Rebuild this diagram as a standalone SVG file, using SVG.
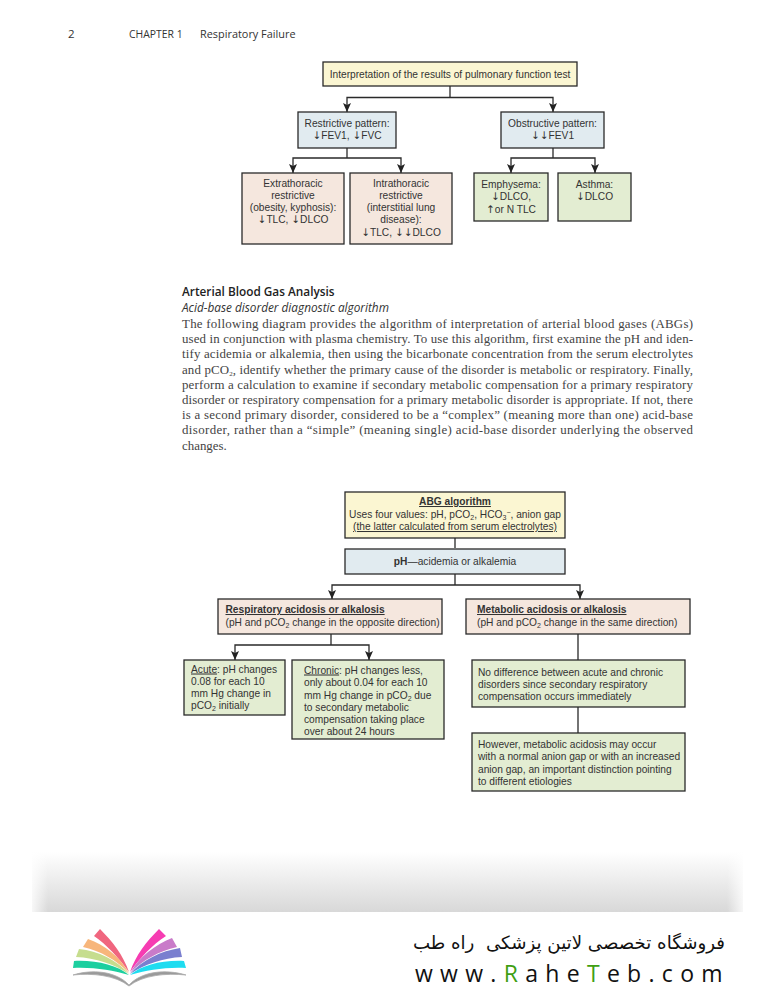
<svg xmlns="http://www.w3.org/2000/svg" width="774" height="991" viewBox="0 0 774 991">
<style>
.b{stroke:#2a2a2a;stroke-width:1.3}
.y{fill:#fbf6d2}.l{fill:#e1ebf0}.p{fill:#f5e7de}.g{fill:#e3edd2}
text{font-family:"Liberation Sans",Arial,sans-serif;font-size:10.2px;fill:#333}
.c{text-anchor:middle}
.body{font-family:"Liberation Serif","Times New Roman",serif;font-size:12.9px;fill:#444}
.bd{font-weight:700}.u{text-decoration:underline}
.sub{font-size:7px}
.ar{font-family:"DejaVu Sans",sans-serif;font-size:10.5px}
#connectors path{fill:none;stroke:#2a2a2a;stroke-width:1.3}
</style>
<defs>
<marker id="a" markerUnits="userSpaceOnUse" markerWidth="9" markerHeight="8" refX="9" refY="4" orient="auto-start-reverse" viewBox="0 0 9 8"><path d="M0 0L2 4L0 8L9 4Z" fill="#222"/></marker>
<linearGradient id="band" x1="0" y1="0" x2="0" y2="1"><stop offset="0" stop-color="#fff"/><stop offset="1" stop-color="#d8d8d8"/></linearGradient>
<linearGradient id="edgeL" x1="0" y1="0" x2="1" y2="0"><stop offset="0" stop-color="#fff" stop-opacity=".8"/><stop offset="1" stop-color="#fff" stop-opacity="0"/></linearGradient>
<linearGradient id="edgeR" x1="1" y1="0" x2="0" y2="0"><stop offset="0" stop-color="#fff" stop-opacity=".8"/><stop offset="1" stop-color="#fff" stop-opacity="0"/></linearGradient>
</defs>
<rect width="774" height="991" fill="#fff"/>

<g id="page-header">
<text x="68" y="38" style="font-family:'Open Sans',sans-serif;font-size:11.5px">2</text>
<text x="129" y="38" style="font-family:'Open Sans',sans-serif;font-size:10.400px">CHAPTER 1</text>
<text x="200" y="38" style="font-family:'Open Sans',sans-serif;font-size:10.900px">Respiratory Failure</text>
</g>

<g id="connectors">
<path d="M450 86V97.5"/>
<path d="M347 112V97.5H553V112" marker-start="url(#a)" marker-end="url(#a)"/>
<path d="M347 148V158"/>
<path d="M293 173V158H401V173" marker-start="url(#a)" marker-end="url(#a)"/>
<path d="M553 148V158"/>
<path d="M511 173V158H595V173" marker-start="url(#a)" marker-end="url(#a)"/>
<path d="M455 538V548M455 574V585"/>
<path d="M332 599V585H580V599" marker-start="url(#a)" marker-end="url(#a)"/>
<path d="M331 634V645"/>
<path d="M235 660V645H369V660" marker-start="url(#a)" marker-end="url(#a)"/>
<path d="M578 634V660M578 707V733"/>
</g>

<g id="n1"><rect class="b y" x="323" y="62" width="254" height="24"/><text class="c" x="450" y="77.5">Interpretation of the results of pulmonary function test</text></g>
<g id="n2"><rect class="b l" x="298" y="112" width="98" height="36"/><text class="c" x="347" y="127">Restrictive pattern:</text><text class="c" x="347" y="139"><tspan class="ar">↓</tspan>FEV1, <tspan class="ar">↓</tspan>FVC</text></g>
<g id="n3"><rect class="b l" x="501" y="112" width="103" height="36"/><text class="c" x="552.5" y="127">Obstructive pattern:</text><text class="c" x="552.5" y="139"><tspan class="ar">↓↓</tspan>FEV1</text></g>
<g id="n4"><rect class="b p" x="242" y="173" width="102" height="71"/><text class="c" x="293" y="187">Extrathoracic</text><text class="c" x="293" y="199">restrictive</text><text class="c" x="293" y="211">(obesity, kyphosis):</text><text class="c" x="293" y="223"><tspan class="ar">↓</tspan>TLC, <tspan class="ar">↓</tspan>DLCO</text></g>
<g id="n5"><rect class="b p" x="350" y="173" width="102" height="71"/><text class="c" x="401" y="187">Intrathoracic</text><text class="c" x="401" y="199">restrictive</text><text class="c" x="401" y="211">(interstitial lung</text><text class="c" x="401" y="223">disease):</text><text class="c" x="401" y="236"><tspan class="ar">↓</tspan>TLC, <tspan class="ar">↓↓</tspan>DLCO</text></g>
<g id="n6"><rect class="b g" x="474" y="173" width="74" height="48"/><text class="c" x="511" y="188">Emphysema:</text><text class="c" x="511" y="200"><tspan class="ar">↓</tspan>DLCO,</text><text class="c" x="511" y="213"><tspan class="ar">↑</tspan>or N TLC</text></g>
<g id="n7"><rect class="b g" x="558" y="173" width="73" height="48"/><text class="c" x="594.5" y="188">Asthma:</text><text class="c" x="594.5" y="200"><tspan class="ar">↓</tspan>DLCO</text></g>

<g id="article">
<text x="182" y="296" style="font-family:'Open Sans',sans-serif;font-size:11.8px;font-weight:600;fill:#222">Arterial Blood Gas Analysis</text>
<text x="182" y="312" style="font-family:'Open Sans',sans-serif;font-size:11.8px;font-style:italic;fill:#333">Acid-base disorder diagnostic algorithm</text>
<text class="body" x="182" y="328" textLength="511">The following diagram provides the algorithm of interpretation of arterial blood gases (ABGs)</text>
<text class="body" x="182" y="343.2" textLength="511">used in conjunction with plasma chemistry. To use this algorithm, first examine the pH and iden-</text>
<text class="body" x="182" y="358.400" textLength="511">tify acidemia or alkalemia, then using the bicarbonate concentration from the serum electrolytes</text>
<text class="body" x="182" y="373.600" textLength="511">and pCO<tspan class="sub" dy="2">2</tspan><tspan dy="-2">, identify whether the primary cause of the disorder is metabolic or respiratory. Finally,</tspan></text>
<text class="body" x="182" y="388.800" textLength="511">perform a calculation to examine if secondary metabolic compensation for a primary respiratory</text>
<text class="body" x="182" y="404" textLength="511">disorder or respiratory compensation for a primary metabolic disorder is appropriate. If not, there</text>
<text class="body" x="182" y="419.200" textLength="511">is a second primary disorder, considered to be a “complex” (meaning more than one) acid-base</text>
<text class="body" x="182" y="434.400" textLength="511">disorder, rather than a “simple” (meaning single) acid-base disorder underlying the observed</text>
<text class="body" x="182" y="449.600">changes.</text>
</g>

<g id="m1"><rect class="b y" x="345" y="492" width="220" height="46"/>
<text class="c bd u" x="455" y="505">ABG algorithm</text>
<text class="c" x="455" y="517.5">Uses four values: pH, pCO<tspan class="sub" dy="2">2</tspan><tspan dy="-2">, HCO</tspan><tspan class="sub" dy="2">3</tspan><tspan class="sub" dy="-5">−</tspan><tspan dy="3">, anion gap</tspan></text>
<text class="c u" x="455" y="530">(the latter calculated from serum electrolytes)</text></g>
<g id="m2"><rect class="b l" x="345" y="549" width="220" height="25"/><text class="c" x="455" y="565"><tspan class="bd">pH</tspan>—acidemia or alkalemia</text></g>
<g id="m3"><rect class="b p" x="218" y="599" width="224" height="35"/><text class="bd u" x="225.500" y="613">Respiratory acidosis or alkalosis</text><text x="225.500" y="625.500">(pH and pCO<tspan class="sub" dy="2">2</tspan><tspan dy="-2"> change in the opposite direction)</tspan></text></g>
<g id="m4"><rect class="b p" x="466" y="599" width="224" height="35"/><text class="bd u" x="477" y="613">Metabolic acidosis or alkalosis</text><text x="477" y="625.500">(pH and pCO<tspan class="sub" dy="2">2</tspan><tspan dy="-2"> change in the same direction)</tspan></text></g>
<g id="m5"><rect class="b g" x="184" y="660" width="101" height="55"/><text x="191" y="672.500"><tspan class="u">Acute</tspan>: pH changes</text><text x="191" y="684.500">0.08 for each 10</text><text x="191" y="697">mm Hg change in</text><text x="191" y="709">pCO<tspan class="sub" dy="2">2</tspan><tspan dy="-2"> initially</tspan></text></g>
<g id="m6"><rect class="b g" x="292" y="660" width="152" height="79"/><text x="304" y="673.500"><tspan class="u">Chronic</tspan>: pH changes less,</text><text x="304" y="686">only about 0.04 for each 10</text><text x="304" y="698.500">mm Hg change in pCO<tspan class="sub" dy="2">2</tspan><tspan dy="-2"> due</tspan></text><text x="304" y="710.500">to secondary metabolic</text><text x="304" y="723">compensation taking place</text><text x="304" y="735">over about 24 hours</text></g>
<g id="m7"><rect class="b g" x="472" y="660" width="213" height="47"/><text x="478" y="675.500">No difference between acute and chronic</text><text x="478" y="688">disorders since secondary respiratory</text><text x="478" y="700">compensation occurs immediately</text></g>
<g id="m8"><rect class="b g" x="472" y="733" width="213" height="58"/><text x="478" y="748">However, metabolic acidosis may occur</text><text x="478" y="760">with a normal anion gap or with an increased</text><text x="478" y="772.500">anion gap, an important distinction pointing</text><text x="478" y="784.500">to different etiologies</text></g>

<g id="footer">
<rect x="32" y="852" width="711" height="60" fill="url(#band)"/>
<rect x="32" y="852" width="16" height="60" fill="url(#edgeL)"/>
<rect x="727" y="852" width="16" height="60" fill="url(#edgeR)"/>
<path d="M94 936L100 929C113 942 123 955 129 972C118 957 107 945 94 936Z" fill="#f0667f"/>
<path d="M83 947L88 939C105 945 119 956 129 973C116 960 101 951 83 947Z" fill="#f7b67b"/>
<path d="M76 957L79 949C98 951 117 960 129 974C114 964 96 958 76 957Z" fill="#c6dd8e"/>
<path d="M73 968L74 961C96 960 117 965 129 975C112 970 93 967 73 968Z" fill="#1ccf9f"/>
<path d="M166 936L159 929C146 942 136 955 130 972C141 957 152 945 166 936Z" fill="#f63cb2"/>
<path d="M177 947L172 938C155 945 140 956 130 973C143 960 159 951 177 947Z" fill="#c97bc9"/>
<path d="M182 957L180 948C161 951 142 960 130 974C145 964 163 958 182 957Z" fill="#7a7fcf"/>
<path d="M186 968L184 961C162 960 142 965 130 975C147 970 166 967 186 968Z" fill="#1edcf0"/>
<path d="M73 975C92 969 116 971 129 985C142 971 166 969 186 975C166 973 143 975 129 986C115 975 92 973 73 975Z" fill="#9a9a9a" stroke="#aaa" stroke-width=".8"/>
<text x="725" y="949" direction="rtl" style="font-family:'DejaVu Sans',sans-serif;font-size:18.2px;fill:#111;direction:rtl;unicode-bidi:embed;white-space:pre">فروشگاه تخصصی لاتین پزشکی  راه طب</text>
<text x="415" y="982" style="font-family:'Open Sans',sans-serif;font-size:23px;fill:#111;letter-spacing:7.3px">www.<tspan fill="#3f9f12">R</tspan>ahe<tspan fill="#3f9f12">T</tspan>eb.com</text>
</g>
</svg>
